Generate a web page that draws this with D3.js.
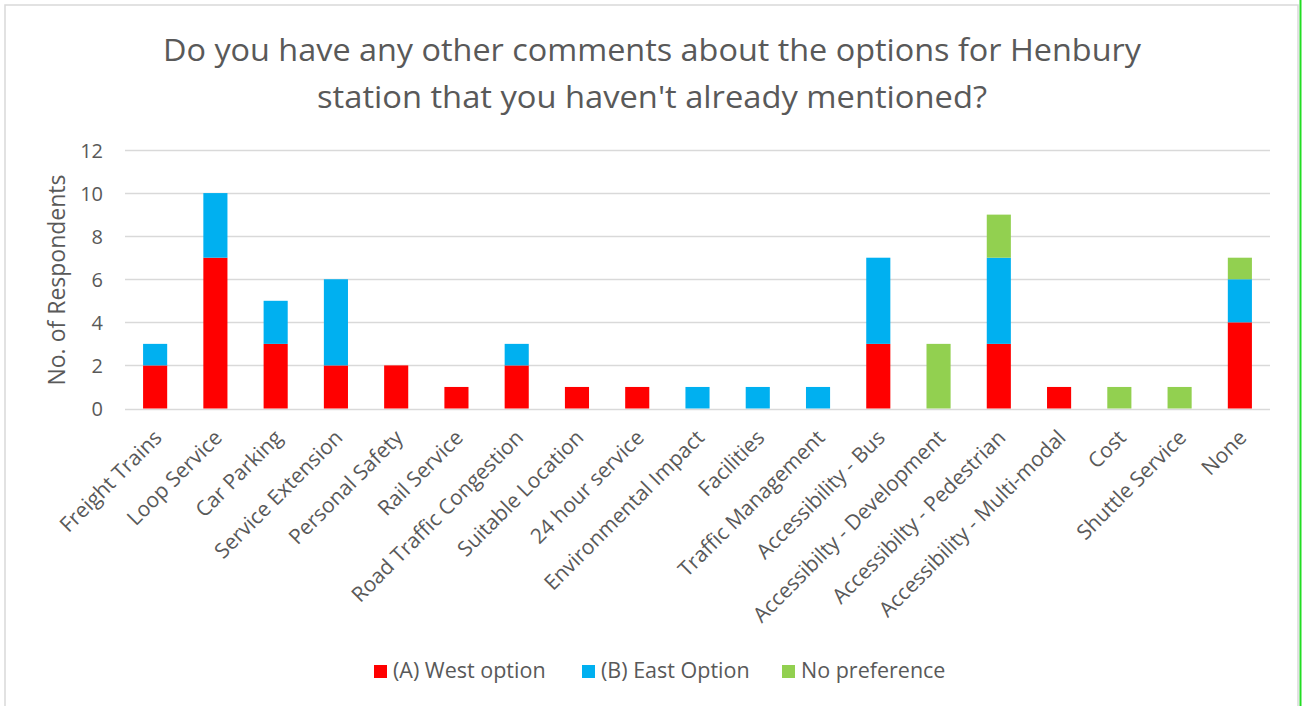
<!DOCTYPE html>
<html>
<head>
<meta charset="utf-8">
<script src="https://cdn.jsdelivr.net/npm/d3@7"></script>
<style>
body { margin: 0; background: #fff; }
text { font-family: "Open Sans", sans-serif; fill: #595959; }
</style>
</head>
<body>
<script>
// data
var categories = ["Freight Trains", "Loop Service", "Car Parking", "Service Extension",
	"Personal Safety", "Rail Service", "Road Traffic Congestion", "Suitable Location",
	"24 hour service", "Environmental Impact", "Facilities", "Traffic Management",
	"Accessibility - Bus", "Accessibilty - Development", "Accessibilty - Pedestrian",
	"Accessibility - Multi-modal", "Cost", "Shuttle Service", "None"]
var west = [2, 7, 3, 2, 2, 1, 2, 1, 1, 0, 0, 0, 3, 0, 3, 1, 0, 0, 4]
var east = [1, 3, 2, 4, 0, 0, 1, 0, 0, 1, 1, 1, 4, 0, 4, 0, 0, 0, 2]
var nopref = [0, 0, 0, 0, 0, 0, 0, 0, 0, 0, 0, 0, 0, 3, 2, 0, 1, 1, 1]
var seriesNames = ["(A) West option", "(B) East Option", "No preference"]
var seriesColors = ["#ff0000", "#00b0f0", "#92d050"]
var yTicks = [0, 2, 4, 6, 8, 10, 12]

var rows = categories.map(function(c, i){
	return {cat: c, west: west[i], east: east[i], nopref: nopref[i]}
})

var body = d3.select('body')
var svg = body.append('svg')
	.attr('width', 1304)
	.attr('height', 706)

// chart border
svg.append('rect')
	.attr('x', 5).attr('y', 5)
	.attr('width', 1293).attr('height', 720)
	.style('fill', 'none')
	.style('stroke', '#d9d9d9')
	.style('stroke-width', 1.5)
svg.append('line')
	.attr('x1', 1300.5).attr('x2', 1300.5)
	.attr('y1', 0).attr('y2', 706)
	.style('stroke', '#22dd22')
	.style('stroke-width', 2)

// title
var titleLines = ["Do you have any other comments about the options for Henbury",
	"station that you haven't already mentioned?"]
var titleLen = [978, 670]
svg.append('g').selectAll('text')
	.data(titleLines)
	.enter().append('text')
	.attr('x', 652)
	.attr('y', function(d, i){ return 61 + i * 47 })
	.attr('text-anchor', 'middle')
	.attr('textLength', function(d, i){ return titleLen[i] })
	.attr('lengthAdjust', 'spacingAndGlyphs')
	.style('font-size', '31px')
	.text(function(d){ return d })

// scales
var x = d3.scaleBand()
	.domain(categories)
	.range([125, 1270])
	.paddingInner(0.6)
	.paddingOuter(0.3)

var y = d3.scaleLinear()
	.domain([0, 12])
	.range([408.5, 150])

// gridlines
svg.append('g').selectAll('line')
	.data(yTicks)
	.enter().append('line')
	.attr('x1', 125).attr('x2', 1270)
	.attr('y1', function(d){ return Math.round(y(d)) + 0.5 })
	.attr('y2', function(d){ return Math.round(y(d)) + 0.5 })
	.style('stroke', '#d9d9d9')
	.style('stroke-width', 1.3)

// y axis
var yAxis = svg.append('g')
	.attr('transform', 'translate(103,0)')
	.call(d3.axisLeft(y).tickValues(yTicks).tickSize(0).tickPadding(0))
yAxis.select('.domain').remove()
yAxis.selectAll('text')
	.style('font-size', '20px')
	.style('font-family', '"Open Sans", sans-serif')
	.style('fill', '#595959')
	.attr('dy', '0.36em')

svg.append('text')
	.attr('transform', 'translate(65,280) rotate(-90)')
	.attr('text-anchor', 'middle')
	.style('font-size', '23px')
	.text('No. of Respondents')

// stacked bars
var stack = d3.stack().keys(['west', 'east', 'nopref'])
var layers = stack(rows)

svg.append('g').selectAll('g')
	.data(layers)
	.enter().append('g')
	.style('fill', function(d, i){ return seriesColors[i] })
	.selectAll('rect')
	.data(function(d){ return d })
	.enter().append('rect')
	.attr('x', function(d){ return x(d.data.cat) })
	.attr('width', x.bandwidth())
	.attr('y', function(d){ return y(d[1]) })
	.attr('height', function(d){ return y(d[0]) - y(d[1]) })

// x axis labels
var xAxis = svg.append('g')
	.attr('transform', 'translate(0,408)')
	.call(d3.axisBottom(x).tickSize(0).tickPadding(0))
xAxis.select('.domain').remove()
xAxis.selectAll('text')
	.style('font-size', '21px')
	.style('font-family', '"Open Sans", sans-serif')
	.style('fill', '#595959')
	.attr('text-anchor', 'end')
	.attr('dy', null)
	.attr('y', 0)
	.attr('transform', 'translate(8,31) rotate(-45)')

// legend
var legendX = [374, 582, 782]
var legend = svg.append('g').selectAll('g')
	.data(seriesNames)
	.enter().append('g')
	.attr('transform', function(d, i){ return 'translate(' + legendX[i] + ',665)' })
legend.append('rect')
	.attr('width', 13).attr('height', 13)
	.style('fill', function(d, i){ return seriesColors[i] })
legend.append('text')
	.attr('x', 19).attr('y', 13)
	.style('font-size', '21.5px')
	.text(function(d){ return d })
</script>
</body>
</html>
